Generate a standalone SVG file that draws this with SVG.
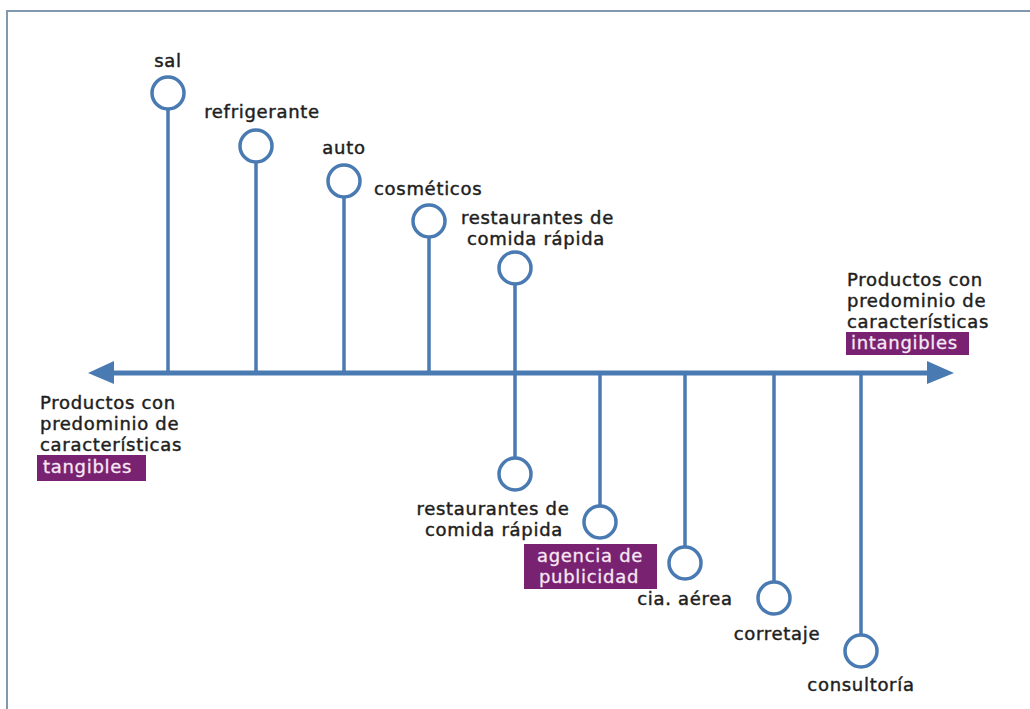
<svg xmlns="http://www.w3.org/2000/svg" width="1030" height="709" viewBox="0 0 1030 709">
<style>
.frame{fill:none;stroke:#8198ae;stroke-width:2}
.stem{stroke:#4a7ab2;stroke-width:3.5;fill:none}
.axis{stroke:#4a7ab2;stroke-width:5;fill:none}
.head{fill:#4a7ab2}
.dot{fill:#fff;stroke:#4a7ab2;stroke-width:3.5}
text{font-family:"DejaVu Sans","Liberation Sans",sans-serif;font-size:18px;letter-spacing:0.7px;fill:#1e1e1e;stroke:#1e1e1e;stroke-width:0.45}
.c{text-anchor:middle}
.tag{fill:#7a2272}
text.w{fill:#f6e9f4;stroke:#f6e9f4;stroke-width:0.3}
</style>
<rect class="frame" x="7" y="11" width="1040" height="720"/>
<g id="connectors">
<line class="axis" x1="108" y1="373" x2="932" y2="373"/>
<polygon class="head" points="88,373 114,361 114,384"/>
<polygon class="head" points="954,373 927,361 927,384"/>
<line class="stem" x1="168" y1="109" x2="168" y2="373"/>
<line class="stem" x1="256" y1="162" x2="256" y2="373"/>
<line class="stem" x1="344" y1="197" x2="344" y2="373"/>
<line class="stem" x1="429" y1="237" x2="429" y2="373"/>
<line class="stem" x1="515" y1="284" x2="515" y2="373"/>
<line class="stem" x1="515" y1="373" x2="515" y2="458"/>
<line class="stem" x1="600" y1="373" x2="600" y2="506"/>
<line class="stem" x1="685" y1="373" x2="685" y2="547"/>
<line class="stem" x1="774" y1="373" x2="774" y2="582"/>
<line class="stem" x1="861" y1="373" x2="861" y2="635"/>
</g>
<g id="sal"><circle class="dot" cx="168" cy="93" r="16"/><text class="c" x="168" y="67">sal</text></g>
<g id="refrigerante"><circle class="dot" cx="256" cy="146" r="16"/><text class="c" x="262" y="118">refrigerante</text></g>
<g id="auto"><circle class="dot" cx="344" cy="181" r="16"/><text class="c" x="344" y="154">auto</text></g>
<g id="cosmeticos"><circle class="dot" cx="429" cy="221" r="16"/><text x="374" y="195">cosméticos</text></g>
<g id="restaurantes-top"><circle class="dot" cx="515" cy="268" r="16"/><text x="461" y="224">restaurantes de</text><text x="467" y="245">comida rápida</text></g>
<g id="restaurantes-bottom"><circle class="dot" cx="515" cy="474" r="16"/><text class="c" x="493" y="515">restaurantes de</text><text class="c" x="494" y="536">comida rápida</text></g>
<g id="agencia"><circle class="dot" cx="600" cy="522" r="16"/><rect class="tag" x="524" y="544" width="133" height="45"/><text class="c w" x="590" y="562">agencia de</text><text class="c w" x="589" y="583">publicidad</text></g>
<g id="cia"><circle class="dot" cx="685" cy="563" r="16"/><text class="c" x="685" y="605">cia. aérea</text></g>
<g id="corretaje"><circle class="dot" cx="774" cy="598" r="16"/><text class="c" x="777" y="640">corretaje</text></g>
<g id="consultoria"><circle class="dot" cx="861" cy="651" r="16"/><text class="c" x="861" y="691">consultoría</text></g>
<g id="tangibles"><text x="40" y="409">Productos con</text><text x="40" y="430">predominio de</text><text x="40" y="451">características</text><rect class="tag" x="37" y="455" width="109" height="26"/><text class="w" x="43" y="473">tangibles</text></g>
<g id="intangibles"><text x="847" y="286">Productos con</text><text x="847" y="307">predominio de</text><text x="847" y="328">características</text><rect class="tag" x="846" y="332" width="123" height="23"/><text class="w" x="851" y="349">intangibles</text></g>
</svg>
